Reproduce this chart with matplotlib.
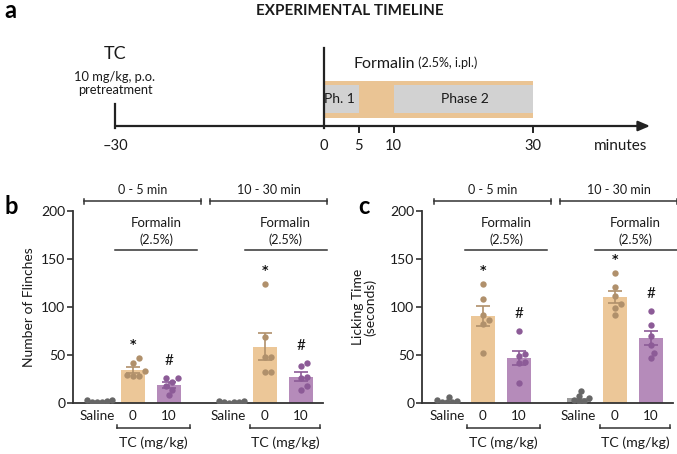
import numpy as np
import matplotlib
matplotlib.use('Agg')
import matplotlib.pyplot as plt

plt.rcParams['font.family'] = ['Lato', 'DejaVu Sans']

# ---------------- data ----------------
# timeline (minutes)
timeline_ticks = [-30, 0, 5, 10, 30]
pretreat_time = -30
formalin_window = (0, 30)
phase1_window = (0, 5)
phase2_window = (10, 30)

group_labels = ['Saline', '0', '10']
window_titles = ['0 - 5 min', '10 - 30 min']

# panel b: number of flinches (individual animals)
flinch_05_saline = [1, 3, 2, 1, 3, 1]
flinch_05_tc0 = [28, 33, 47, 42, 29, 28]
flinch_05_tc10 = [8, 22, 26, 18, 26, 14]
flinch_1030_saline = [1, 2, 1, 0, 2, 1]
flinch_1030_tc0 = [124, 69, 48, 48, 32, 32]
flinch_1030_tc10 = [38.5, 41.7, 26, 27.5, 13.5, 17.7]

# panel c: licking time (s)
lick_05_saline = [1, 6, 2, 1, 3, 1]
lick_05_tc0 = [123.6, 108, 92, 86, 82, 52]
lick_05_tc10 = [75, 51.4, 48.6, 42.3, 41.6, 20.8]
lick_1030_saline = [12.8, 7.6, 3.5, 5, 1.7, 1.7]
lick_1030_tc0 = [135, 120.5, 111, 103.4, 98.6, 92]
lick_1030_tc10 = [95.5, 81.6, 70, 60, 52.4, 46.5]

# ---------------- styles ----------------
W, H = 677, 454
C_BAR = ['#9a9a9a', '#ECC798', '#B58BBA']
C_DOT = ['#666666', '#B0906B', '#8C5B97']
C_LINE = '#333333'
TXT = '#1a1a1a'
TL_ORANGE = '#EAC494'
TL_GREY = '#D2D2D2'

fig = plt.figure(figsize=(W / 100, H / 100), dpi=100)


def fx(px):
    return px / W


def fy(py):
    return 1 - py / H


# ---------------- panel a: timeline ----------------
axa = fig.add_axes([0, fy(160), 1, 160 / H])
axa.set_axis_off()
ppm = (533 - 115) / 60.0  # px per minute
axa.set_xlim(-30 - 115 / ppm, 30 + (W - 533) / ppm)
axa.set_ylim(160, 0)

y_axis = 126
arrow_end = -30 + (650 - 115) / ppm
axa.annotate('', xy=(arrow_end, y_axis), xytext=(pretreat_time, y_axis),
             arrowprops=dict(arrowstyle='-|>,head_length=0.7,head_width=0.3',
                             color='#222222', lw=1.6, shrinkA=0, shrinkB=0))
# formalin band
axa.fill_between(formalin_window, 81, 118, color=TL_ORANGE, lw=0, zorder=1)
axa.fill_between(phase1_window, 85, 113, color=TL_GREY, lw=0, zorder=2)
axa.fill_between(phase2_window, 85, 113, color=TL_GREY, lw=0, zorder=2)
# vertical lines / ticks
axa.plot([0, 0], [48, 128], color='#222222', lw=1.6, zorder=3)
axa.plot([pretreat_time] * 2, [104, 128], color='#222222', lw=1.6, zorder=3)
for t in timeline_ticks[2:]:
    axa.plot([t, t], [126, 132], color='#222222', lw=1.4, zorder=3)
for t in timeline_ticks:
    lab = '\u201330' if t < 0 else str(t)
    axa.text(t, 146, lab, ha='center', va='center', fontsize=10.5, color=TXT)
axa.text(42.5, 146, 'minutes', ha='center', va='center', fontsize=11, color=TXT)
axa.text(np.mean(phase1_window) - 0.3, 99, 'Ph. 1', ha='center', va='center', fontsize=10, color=TXT, zorder=4)
axa.text(np.mean(phase2_window) + 0.3, 99, 'Phase 2', ha='center', va='center', fontsize=10, color=TXT, zorder=4)
tf = axa.text(4.3, 64, 'Formalin', ha='left', va='center', fontsize=11.5, color=TXT)
axa.annotate(' (2.5%, i.pl.)', xy=(1, 0.14), xycoords=tf, ha='left', va='bottom',
             fontsize=9, color=TXT)
axa.text(pretreat_time, 54, 'TC', ha='center', va='center', fontsize=13, color=TXT)
axa.text(pretreat_time, 77, '10 mg/kg, p.o.', ha='center', va='center', fontsize=9.3, color=TXT)
axa.text(pretreat_time, 89.5, 'pretreatment', ha='center', va='center', fontsize=9.3, color=TXT)

fig.text(fx(350), fy(11), 'EXPERIMENTAL TIMELINE', ha='center', va='center',
         fontsize=11, fontweight='bold', color=TXT)
fig.text(fx(4), fy(11), 'a', ha='left', va='center', fontsize=17, fontweight='bold')
fig.text(fx(4), fy(206), 'b', ha='left', va='center', fontsize=17, fontweight='bold')
fig.text(fx(358), fy(206), 'c', ha='left', va='center', fontsize=17, fontweight='bold')


# ---------------- panels b, c ----------------
def swarm(values, px_per_x, px_per_y, diam):
    values = np.asarray(values, float)
    order = np.argsort(values)
    placed = []
    offs = np.zeros(len(values))
    cands = [0.0]
    for k in range(1, 30):
        cands += [k * diam * 0.5, -k * diam * 0.5]
    for i in order:
        y = values[i] * px_per_y
        for c in cands:
            if all((c - px) ** 2 + (y - py) ** 2 >= diam ** 2 for px, py in placed):
                break
        placed.append((c, y))
        offs[i] = c / px_per_x
    return offs


GAP = 3.66
pos = [0, 1, 2, GAP, GAP + 1, GAP + 2]
PX_X = 36.0
PX_Y = 0.96


def draw_panel(ax, data, ylabel, xl):
    ax.set_xlim(*xl)
    ax.set_ylim(0, 200)
    for i, vals in enumerate(data):
        k = i % 3
        v = np.asarray(vals, float)
        m = v.mean()
        sem = v.std(ddof=1) / np.sqrt(len(v))
        ax.bar(pos[i], m, width=0.67, color=C_BAR[k], zorder=1)
        if k > 0:
            ax.errorbar(pos[i], m, yerr=sem, fmt='none', ecolor=C_DOT[k],
                        elinewidth=1.2, capsize=4.8, capthick=1.2, zorder=4)
        off = swarm(v, PX_X, PX_Y, 5.0 if k == 0 else 6.2)
        ax.scatter(pos[i] + off, v, s=21, color=C_DOT[k], zorder=3, lw=0)
        if k == 1:
            ax.text(pos[i], v.max() + 14, '*', ha='center', va='center',
                    fontsize=9, fontweight='bold', color='#111111',
                    family='DejaVu Sans')
        elif k == 2:
            ax.text(pos[i], v.max() + 18, '#', ha='center', va='center',
                    fontsize=11, color='#111111')
    for s in ['top', 'right']:
        ax.spines[s].set_visible(False)
    for s in ['left', 'bottom']:
        ax.spines[s].set_color(C_LINE)
        ax.spines[s].set_linewidth(1.3)
    ax.set_yticks([0, 50, 100, 150, 200])
    ax.tick_params(axis='y', length=4, width=1.2, color=C_LINE, pad=1.5,
                   labelsize=10, labelcolor=TXT)
    ax.set_xticks(pos)
    ax.set_xticklabels(group_labels * 2)
    ax.tick_params(axis='x', length=0, pad=5, labelsize=9.7, labelcolor=TXT)
    ax.set_ylabel(ylabel, fontsize=10, color=TXT, linespacing=1.0)

    kw = dict(color=C_LINE, lw=1.1, clip_on=False)
    for g, (a, b) in enumerate([(-0.35, 2.88), (3.15, 6.4)]):
        ax.plot([a, b], [210, 210], **kw)
        ax.plot([a, a], [207, 213], **kw)
        ax.plot([b, b], [207, 213], **kw)
        ax.text((a + b) / 2, 222, window_titles[g], ha='center', va='center',
                fontsize=9, color=TXT)
    for a, b in [(0.5, 2.78), (4.1, 6.38)]:
        ax.plot([a, b], [159.5, 159.5], **kw)
        ax.text((a + b) / 2, 187, 'Formalin', ha='center', va='center',
                fontsize=9.5, color=TXT)
        ax.text((a + b) / 2, 170, '(2.5%)', ha='center', va='center',
                fontsize=9, color=TXT)
    for a, b in [(0.55, 2.58), (4.25, 6.2)]:
        ax.plot([a, b], [-26, -26], **kw)
        ax.plot([a, a], [-26, -23], **kw)
        ax.plot([b, b], [-26, -23], **kw)
        ax.text((a + b) / 2, -41.5, 'TC (mg/kg)', ha='center', va='center',
                fontsize=10.2, color=TXT)


axb = fig.add_axes([fx(73), fy(403), 250 / W, 192 / H])
draw_panel(axb, [flinch_05_saline, flinch_05_tc0, flinch_05_tc10,
                 flinch_1030_saline, flinch_1030_tc0, flinch_1030_tc10],
           'Number of Flinches', (-0.667, 6.28))
axb.yaxis.set_label_coords(-0.152, 0.5)

axc = fig.add_axes([fx(422), fy(403), 251 / W, 192 / H])
draw_panel(axc, [lick_05_saline, lick_05_tc0, lick_05_tc10,
                 lick_1030_saline, lick_1030_tc0, lick_1030_tc10],
           'Licking Time\n(seconds)', (-0.694, 6.28))
axc.yaxis.set_label_coords(-0.18, 0.5)

fig.savefig('out.png', dpi=100)
